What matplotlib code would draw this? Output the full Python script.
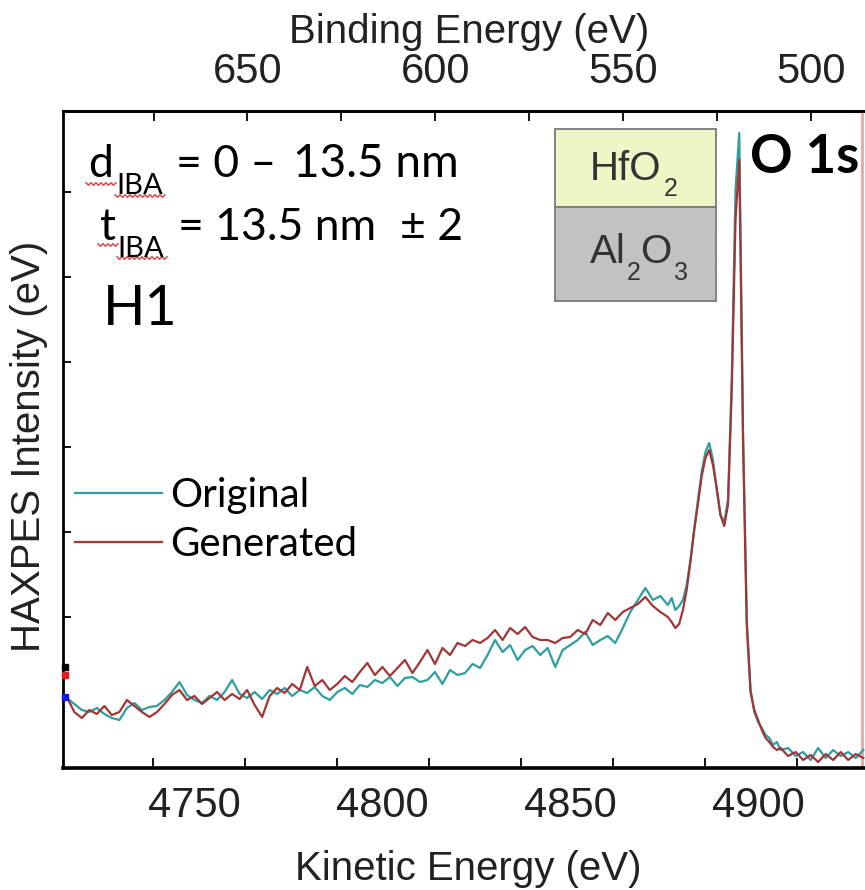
import numpy as np
import matplotlib
matplotlib.use("Agg")
import matplotlib.pyplot as plt
from matplotlib.lines import Line2D
from matplotlib.patches import Rectangle
from matplotlib.ticker import MultipleLocator, FixedLocator

plt.rcParams['font.family'] = ['Liberation Sans', 'DejaVu Sans']

W, H = 865, 890
DPI = 100

# ---------------- data ----------------
kinetic_energy = np.concatenate([np.arange(4716, 4877, 2),
                                 np.arange(4877, 4907, 1),
                                 np.arange(4908, 4929, 2)])
original = np.array([
    89, 83, 77, 75, 79, 73, 69, 67, 79, 84,
    77, 80, 81, 87, 95, 105, 92, 87, 84, 91,
    87, 95, 107, 93, 89, 95, 88, 97, 93, 99,
    91, 97, 94, 100, 91, 87, 95, 99, 93, 102,
    100, 107, 104, 110, 101, 109, 110, 105, 107, 115,
    103, 117, 112, 114, 123, 119, 132, 147, 135, 142,
    127, 137, 141, 132, 139, 120, 137, 142, 147, 155,
    142, 147, 151, 144, 159, 175, 187, 199, 187, 191,
    182,
    189, 177, 181, 187, 202, 227, 257, 287, 315, 335,
    344, 327, 297, 272, 265, 287, 407, 597, 654, 357,
    167, 97, 75, 65, 59, 52, 49, 42, 45, 37,
    39, 31, 35, 27, 39, 29, 37, 31, 35, 29, 37])
generated = np.array([
    90, 75, 69, 77, 73, 81, 72, 75, 87, 81,
    75, 70, 75, 83, 92, 97, 87, 91, 83, 89,
    95, 87, 93, 88, 97, 82, 70, 91, 99, 94,
    103, 97, 120, 101, 107, 97, 103, 111, 105, 115,
    124, 112, 120, 111, 119, 127, 114, 125, 137, 123,
    139, 132, 144, 141, 147, 144, 149, 157, 147, 159,
    153, 160, 150, 147, 147, 144, 149, 150, 157, 153,
    167, 162, 174, 167, 175, 179, 183, 190, 181, 175,
    170,
    165, 159, 163, 177, 197, 225, 257, 283, 311, 329,
    337, 322, 299, 272, 261, 282, 397, 567, 627, 347,
    162, 95, 77, 67, 57, 49, 45, 40, 37, 39,
    31, 35, 27, 32, 25, 33, 27, 35, 27, 33, 29])

series_labels = ["Original", "Generated"]
series_colors = ["#2E9EA0", "#A13636"]
ke_ticks = [4750, 4800, 4850, 4900]                       # labelled positions
ke_tick_marks = [4738.9, 4763.4, 4787.9, 4812.4, 4836.9,
                 4861.4, 4885.9, 4910.4]                  # tick marks as drawn
be_ticks = [500, 550, 600, 650]
y_ticks = [170, 255, 340, 425, 510, 595]
photon_offset = 5414.1          # BE = offset - KE
marker_line_ke = 4927.7
edge_marker_vals = [120, 112, 90]
edge_marker_colors = ["black", "#E02020", "#1515E0"]

# ---------------- figure ----------------
fig = plt.figure(figsize=(W / DPI, H / DPI), dpi=DPI)


def fx(x):
    return x / W


def fy(y):
    return 1 - y / H


ax = fig.add_axes([fx(63), fy(768), 1 - fx(63), fy(111) - fy(768)])
ax.set_xlim(4714.99, 4928.47)
ax.set_ylim(19, 676)

l1, = ax.plot(kinetic_energy, original, color=series_colors[0], lw=1.6,
              label=series_labels[0], zorder=3)
l2, = ax.plot(kinetic_energy, generated, color=series_colors[1], lw=1.6,
              label=series_labels[1], zorder=4)
ax.axvline(marker_line_ke, color="#E7A5A5", lw=2, zorder=2)

for v, c in zip(edge_marker_vals, edge_marker_colors):
    ax.plot([4715.4], [v], 's', color=c, ms=4, clip_on=False, zorder=6)

for s in ["left", "top", "bottom"]:
    ax.spines[s].set_linewidth(2)
    ax.spines[s].set_color("black")
ax.spines["bottom"].set_linewidth(2.6)
ax.spines["right"].set_visible(False)

ax.xaxis.set_major_locator(FixedLocator(ke_ticks))
ax.xaxis.set_minor_locator(FixedLocator(ke_tick_marks))
ax.tick_params(axis="x", which="major", direction="in", length=0,
               labelsize=30, pad=13, top=False, labelcolor="#222222")
ax.tick_params(axis="x", which="minor", direction="in", length=7.2, width=1.3,
               top=False)
ax.yaxis.set_major_locator(FixedLocator(y_ticks))
ax.tick_params(axis="y", which="both", direction="in", length=6, width=1.3,
               labelleft=False, right=False)

secax = ax.secondary_xaxis("top", functions=(lambda k: photon_offset - k,
                                             lambda b: photon_offset - b))
secax.xaxis.set_major_locator(FixedLocator(be_ticks))
secax.xaxis.set_minor_locator(MultipleLocator(25))
secax.tick_params(axis="x", which="both", direction="in", length=7.2, width=1.3,
                  labelsize=30, pad=14, labelcolor="#222222")
secax.spines["top"].set_linewidth(2)

# axis titles
fig.text(fx(469), fy(43), "Binding Energy (eV)", fontsize=29, ha="center",
         va="baseline", color="#222222")
fig.text(fx(468), fy(880), "Kinetic Energy (eV)", fontsize=29, ha="center",
         va="baseline", color="#222222")
fig.text(fx(29), fy(446), "HAXPES Intensity (eV)", fontsize=29, ha="center",
         va="center", rotation=90, color="#222222")

# legend
ax.legend(handles=[l1, l2], loc="upper left",
          bbox_to_anchor=(fx(75), fy(477)), bbox_transform=fig.transFigure,
          frameon=False, prop={"family": "Lato", "size": 29},
          handlelength=2.16, handletextpad=0.2, labelspacing=0.3,
          borderpad=0, borderaxespad=0)

# annotation text (Calibri-like)
tk = dict(family=["Lato", "DejaVu Sans"], color="black", va="baseline", ha="left")
fig.text(fx(88), fy(177), "d", fontsize=32, **tk)
fig.text(fx(116), fy(194), "IBA", fontsize=21, **tk)
fig.text(fx(176), fy(177), "= 0 \u2013", fontsize=32, **tk)
fig.text(fx(293), fy(177), "13.5 nm", fontsize=33, **tk)
fig.text(fx(100), fy(240), "t", fontsize=32, **tk)
fig.text(fx(117), fy(257), "IBA", fontsize=21, **tk)
fig.text(fx(178), fy(240), "= 13.5 nm", fontsize=32, **tk)
fig.text(fx(400), fy(240), "\u00b1 2", fontsize=32, **tk)
fig.text(fx(103), fy(325), "H1", fontsize=40, **tk)
fig.text(fx(750), fy(173), "O 1s", fontsize=38, fontweight="bold", **tk)


# spell-check squiggles
def squiggle(x0, x1, yc):
    xs = np.arange(x0, x1 + 0.1, 2.5)
    ys = yc + np.where(np.arange(len(xs)) % 2 == 0, -1.3, 1.3)
    fig.add_artist(Line2D([fx(v) for v in xs], [fy(v) for v in ys],
                          color="#E03C3C", lw=1.0, transform=fig.transFigure))


squiggle(86, 116, 184)
squiggle(115, 165, 196)
squiggle(98, 118, 245)
squiggle(117, 167, 258)

# layer stack box
fig.add_artist(Rectangle((fx(555), fy(207)), fx(716) - fx(555), fy(129) - fy(207),
                         transform=fig.transFigure, facecolor="#EEF6C6",
                         edgecolor="#7A7A7A", lw=1.3, zorder=5))
fig.add_artist(Rectangle((fx(555), fy(301)), fx(716) - fx(555), fy(207) - fy(301),
                         transform=fig.transFigure, facecolor="#C2C2C2",
                         edgecolor="#7A7A7A", lw=1.3, zorder=5))
bk = dict(color="#333333", va="baseline", ha="left", zorder=6)
fig.text(fx(590), fy(180), "HfO", fontsize=29, **bk)
fig.text(fx(664), fy(196), "2", fontsize=18, **bk)
fig.text(fx(590), fy(263), "Al", fontsize=29, **bk)
fig.text(fx(627), fy(280), "2", fontsize=18, **bk)
fig.text(fx(640), fy(263), "O", fontsize=29, **bk)
fig.text(fx(674), fy(280), "3", fontsize=18, **bk)

fig.savefig("out.png", dpi=DPI)
